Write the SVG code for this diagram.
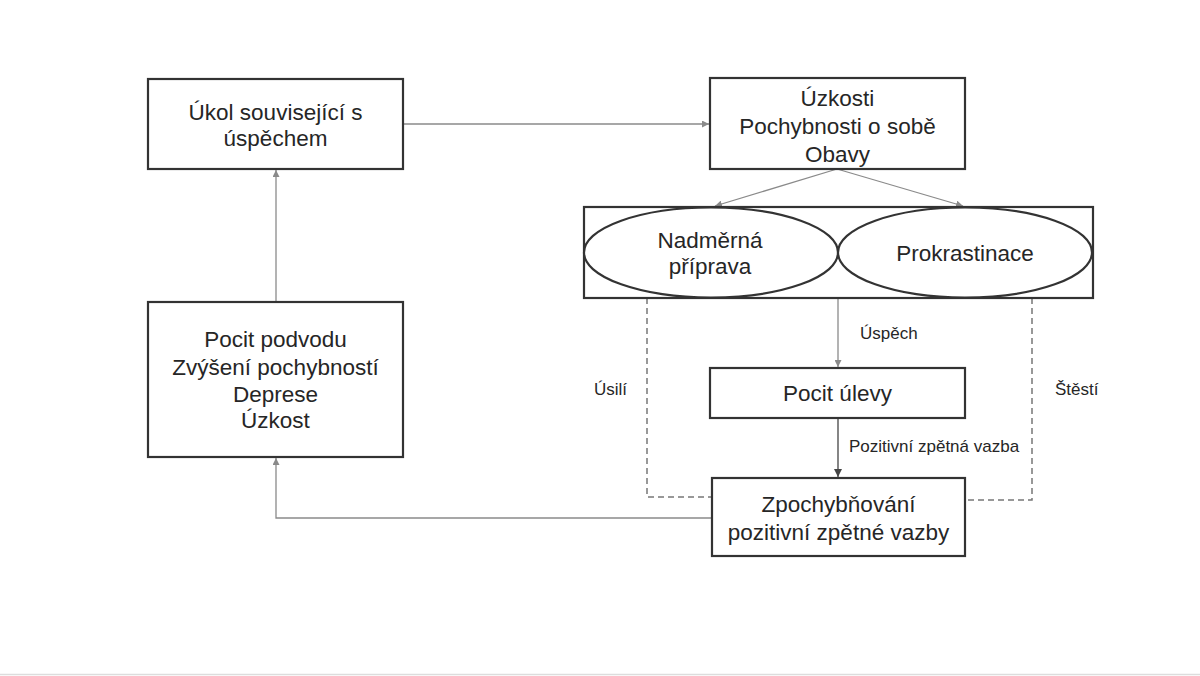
<svg xmlns="http://www.w3.org/2000/svg" width="1200" height="676" viewBox="0 0 1200 676">
<style>
.box{fill:#fff;stroke:#333;stroke-width:2.2}
.t{font-family:"Liberation Sans",Arial,sans-serif;font-size:22.5px;fill:#262626;text-anchor:middle}
.l{font-family:"Liberation Sans",Arial,sans-serif;font-size:17px;fill:#262626}
.c{fill:none;stroke:#8a8a8a;stroke-width:1.3}
.cd{fill:none;stroke:#444;stroke-width:1.3}
.d{fill:none;stroke:#777;stroke-width:1.5;stroke-dasharray:6 4}
</style>
<defs>
<marker id="a" viewBox="0 0 10 10" refX="10" refY="5" markerWidth="7" markerHeight="7" markerUnits="userSpaceOnUse" orient="auto"><path d="M0,0 L10,5 L0,10 z" fill="#8a8a8a"/></marker>
<marker id="ad" viewBox="0 0 10 10" refX="10" refY="5" markerWidth="8" markerHeight="8" markerUnits="userSpaceOnUse" orient="auto"><path d="M0,0 L10,5 L0,10 z" fill="#444"/></marker>
</defs>
<rect width="1200" height="676" fill="#fff"/>
<line x1="0" y1="674.5" x2="1200" y2="674.5" stroke="#ddd" stroke-width="1.5"/>
<g id="connectors">
<line class="c" x1="403" y1="124" x2="709" y2="124" marker-end="url(#a)"/>
<line class="c" x1="837" y1="169" x2="715" y2="206" marker-end="url(#a)"/>
<line class="c" x1="837" y1="169" x2="963" y2="206" marker-end="url(#a)"/>
<line class="c" x1="838" y1="298" x2="838" y2="367" marker-end="url(#a)"/>
<line class="cd" x1="838" y1="418" x2="838" y2="477" marker-end="url(#ad)"/>
<polyline class="c" points="712,518 276,518 276,458" marker-end="url(#a)"/>
<line class="c" x1="276" y1="302" x2="276" y2="170" marker-end="url(#a)"/>
<polyline class="d" points="647,298 647,497 712,497"/>
<polyline class="d" points="1032,298 1032,500 965,500"/>
<text class="l" x="860" y="339">Úspěch</text>
<text class="l" x="849" y="452">Pozitivní zpětná vazba</text>
<text class="l" x="594" y="395">Úsilí</text>
<text class="l" x="1055" y="395">Štěstí</text>
</g>
<g id="n1">
<rect class="box" x="148" y="79" width="255" height="90"/>
<text class="t" x="275.5" y="120">Úkol související s</text>
<text class="t" x="275.5" y="146">úspěchem</text>
</g>
<g id="n2">
<rect class="box" x="710" y="78" width="255" height="91"/>
<text class="t" x="837.5" y="106">Úzkosti</text>
<text class="t" x="837.5" y="134">Pochybnosti o sobě</text>
<text class="t" x="837.5" y="162">Obavy</text>
</g>
<g id="n3">
<rect class="box" x="584" y="207" width="509" height="91"/>
</g>
<g id="n3a">
<ellipse class="box" cx="711" cy="252.5" rx="127" ry="45"/>
<text class="t" x="710" y="248">Nadměrná</text>
<text class="t" x="710" y="274">příprava</text>
</g>
<g id="n3b">
<ellipse class="box" cx="965" cy="252.5" rx="127" ry="45"/>
<text class="t" x="965" y="261">Prokrastinace</text>
</g>
<g id="n4">
<rect class="box" x="710" y="368" width="255" height="50"/>
<text class="t" x="837.5" y="401">Pocit úlevy</text>
</g>
<g id="n5">
<rect class="box" x="712" y="478" width="253" height="78"/>
<text class="t" x="838.5" y="512">Zpochybňování</text>
<text class="t" x="838.5" y="540">pozitivní zpětné vazby</text>
</g>
<g id="n6">
<rect class="box" x="148" y="302" width="255" height="155"/>
<text class="t" x="275.5" y="347">Pocit podvodu</text>
<text class="t" x="275.5" y="375">Zvýšení pochybností</text>
<text class="t" x="275.5" y="402">Deprese</text>
<text class="t" x="275.5" y="428">Úzkost</text>
</g>
</svg>
